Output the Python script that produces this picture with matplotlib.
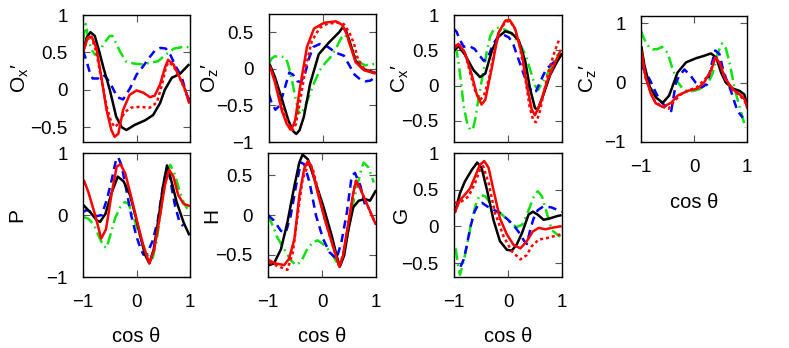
import matplotlib
matplotlib.use("Agg")
import matplotlib.pyplot as plt

plt.rcParams["font.family"] = ["Liberation Sans", "DejaVu Sans"]
plt.rcParams["mathtext.fontset"] = "custom"
plt.rcParams["mathtext.rm"] = "Liberation Sans"
plt.rcParams["mathtext.it"] = "Liberation Sans"

# ---- data: (cos theta, value) ----
# O_x'
ox_black = [(-1, 0.5), (-0.93, 0.7), (-0.86, 0.77), (-0.78, 0.72), (-0.7, 0.52), (-0.62, 0.3), (-0.5, 0.0),
            (-0.38, -0.36), (-0.28, -0.5), (-0.19, -0.54), (-0.03, -0.47), (0.16, -0.41), (0.31, -0.34),
            (0.44, -0.18), (0.53, 0.0), (0.66, 0.16), (0.81, 0.21), (0.97, 0.33)]
ox_red = [(-1, 0.5), (-0.91, 0.7), (-0.84, 0.71), (-0.75, 0.56), (-0.66, 0.18), (-0.56, -0.27), (-0.47, -0.54),
          (-0.41, -0.63), (-0.34, -0.59), (-0.25, -0.27), (-0.13, -0.07), (0.0, -0.01), (0.13, -0.04),
          (0.25, -0.1), (0.34, -0.08), (0.44, 0.07), (0.53, 0.29), (0.59, 0.4), (0.69, 0.34), (0.81, 0.16),
          (0.91, 0.0), (0.98, -0.17)]
ox_red_dot = [(-1, 0.5), (-0.91, 0.7), (-0.84, 0.7), (-0.75, 0.5), (-0.66, 0.15), (-0.56, -0.22), (-0.47, -0.44),
              (-0.4, -0.5), (-0.32, -0.44), (-0.22, -0.3), (-0.1, -0.24), (0.05, -0.23), (0.25, -0.24),
              (0.38, -0.17), (0.47, 0.05), (0.55, 0.3), (0.6, 0.37), (0.69, 0.32), (0.81, 0.15), (0.91, 0.0),
              (0.98, -0.15)]
ox_blue = [(-1, 0.52), (-0.95, 0.42), (-0.88, 0.25), (-0.82, 0.15), (-0.72, 0.15), (-0.62, 0.2), (-0.55, 0.15),
           (-0.45, 0.03), (-0.36, -0.1), (-0.25, -0.13), (-0.12, 0.02), (0.0, 0.2), (0.12, 0.31), (0.25, 0.44),
           (0.34, 0.52), (0.45, 0.56), (0.55, 0.55), (0.63, 0.47), (0.75, 0.29), (0.84, 0.18), (0.94, -0.07),
           (1, -0.15)]
ox_green = [(-1, 0.65), (-0.95, 0.88), (-0.91, 0.72), (-0.85, 0.55), (-0.78, 0.47), (-0.7, 0.5), (-0.6, 0.63),
            (-0.5, 0.72), (-0.45, 0.72), (-0.38, 0.62), (-0.3, 0.5), (-0.2, 0.38), (-0.05, 0.35), (0.1, 0.34),
            (0.25, 0.36), (0.4, 0.38), (0.5, 0.44), (0.6, 0.5), (0.7, 0.55), (0.85, 0.57), (1, 0.57)]

# O_z'
oz_black = [(-0.98, 0.05), (-0.89, -0.11), (-0.76, -0.41), (-0.64, -0.7), (-0.55, -0.85), (-0.49, -0.89),
            (-0.43, -0.84), (-0.35, -0.66), (-0.23, -0.2), (-0.07, 0.2), (0.12, 0.36), (0.31, 0.5), (0.38, 0.57),
            (0.44, 0.52), (0.5, 0.39), (0.62, 0.11), (0.75, 0.0), (0.97, -0.05)]
oz_red = [(-0.98, 0.03), (-0.89, -0.18), (-0.76, -0.57), (-0.67, -0.75), (-0.6, -0.83), (-0.55, -0.78),
          (-0.51, -0.7), (-0.42, -0.25), (-0.29, 0.3), (-0.16, 0.55), (0.03, 0.63), (0.25, 0.65), (0.37, 0.6),
          (0.45, 0.48), (0.5, 0.36), (0.62, 0.09), (0.78, -0.02), (0.97, -0.06)]
oz_red_dot = [(-0.98, 0.02), (-0.89, -0.15), (-0.76, -0.5), (-0.65, -0.74), (-0.56, -0.84), (-0.5, -0.76),
              (-0.42, -0.45), (-0.32, 0.0), (-0.2, 0.38), (-0.05, 0.56), (0.1, 0.62), (0.3, 0.63), (0.4, 0.61),
              (0.5, 0.5), (0.59, 0.34), (0.66, 0.14), (0.78, 0.0), (0.97, -0.05)]
oz_blue = [(-1, -0.35), (-0.95, -0.47), (-0.88, -0.56), (-0.8, -0.5), (-0.7, -0.25), (-0.62, -0.05),
           (-0.55, -0.08), (-0.47, -0.17), (-0.4, -0.18), (-0.32, -0.05), (-0.25, 0.15), (-0.17, 0.3),
           (-0.05, 0.34), (0.1, 0.3), (0.25, 0.22), (0.4, 0.18), (0.5, 0.05), (0.6, -0.08), (0.7, -0.14),
           (0.8, -0.17), (0.9, -0.16), (1, -0.1)]
oz_green = [(-1, 0.08), (-0.95, 0.14), (-0.9, 0.17), (-0.8, 0.17), (-0.7, 0.16), (-0.65, 0.08), (-0.58, -0.12),
            (-0.52, -0.35), (-0.45, -0.58), (-0.4, -0.62), (-0.33, -0.52), (-0.25, -0.37), (-0.15, -0.18),
            (-0.05, -0.02), (0.05, 0.08), (0.15, 0.16), (0.25, 0.28), (0.35, 0.42), (0.42, 0.47), (0.5, 0.36),
            (0.6, 0.18), (0.7, 0.08), (0.8, 0.05), (0.9, 0.06), (1, 0.07)]

# C_x'
cx_black = [(-0.98, 0.51), (-0.92, 0.56), (-0.8, 0.44), (-0.64, 0.22), (-0.52, 0.12), (-0.42, 0.17),
            (-0.3, 0.49), (-0.18, 0.69), (-0.05, 0.77), (0.07, 0.74), (0.2, 0.64), (0.32, 0.34), (0.41, -0.05),
            (0.5, -0.32), (0.55, -0.34), (0.66, -0.12), (0.78, 0.15), (0.91, 0.34), (0.99, 0.44)]
cx_red = [(-0.98, 0.54), (-0.92, 0.59), (-0.8, 0.47), (-0.67, 0.15), (-0.58, -0.12), (-0.49, -0.27),
          (-0.42, -0.2), (-0.3, 0.25), (-0.18, 0.74), (-0.05, 0.92), (0.03, 0.93), (0.13, 0.81), (0.26, 0.44),
          (0.35, 0.0), (0.44, -0.34), (0.5, -0.42), (0.6, -0.25), (0.72, 0.05), (0.85, 0.29), (0.97, 0.49)]
cx_red_dot = [(-0.98, 0.55), (-0.92, 0.6), (-0.8, 0.47), (-0.68, 0.12), (-0.6, -0.1), (-0.52, -0.2),
              (-0.45, -0.15), (-0.35, 0.1), (-0.25, 0.5), (-0.15, 0.78), (-0.05, 0.9), (0.03, 0.92),
              (0.12, 0.82), (0.22, 0.55), (0.32, 0.1), (0.4, -0.3), (0.47, -0.5), (0.52, -0.52),
              (0.58, -0.4), (0.65, -0.15), (0.75, 0.2), (0.85, 0.45), (0.94, 0.64)]
cx_blue = [(-1, 0.8), (-0.95, 0.76), (-0.9, 0.66), (-0.82, 0.55), (-0.72, 0.56), (-0.62, 0.52), (-0.52, 0.42),
           (-0.45, 0.35), (-0.38, 0.38), (-0.28, 0.58), (-0.18, 0.7), (-0.08, 0.72), (0.02, 0.68), (0.1, 0.58),
           (0.2, 0.36), (0.3, 0.14), (0.38, 0.0), (0.45, -0.1), (0.52, -0.08), (0.6, 0.06), (0.7, 0.22),
           (0.8, 0.3), (0.9, 0.36), (1, 0.45)]
cx_green = [(-1, 0.5), (-0.96, 0.52), (-0.92, 0.35), (-0.87, 0.05), (-0.82, -0.3), (-0.76, -0.52), (-0.7, -0.63),
            (-0.65, -0.62), (-0.6, -0.45), (-0.55, -0.2), (-0.48, 0.1), (-0.4, 0.45), (-0.33, 0.7),
            (-0.26, 0.8), (-0.18, 0.82), (-0.08, 0.8), (0.05, 0.75), (0.15, 0.65), (0.25, 0.55), (0.35, 0.38),
            (0.42, 0.2), (0.5, 0.0), (0.56, -0.06), (0.62, 0.02), (0.72, 0.15), (0.82, 0.3), (0.9, 0.42),
            (0.97, 0.47)]

# C_z'
cz_black = [(-0.99, 0.59), (-0.94, 0.31), (-0.84, -0.06), (-0.72, -0.25), (-0.59, -0.34), (-0.47, -0.22),
            (-0.31, 0.17), (-0.15, 0.34), (0.04, 0.41), (0.19, 0.45), (0.32, 0.49), (0.42, 0.42), (0.51, 0.17),
            (0.6, 0.0), (0.73, -0.1), (0.86, -0.14), (0.95, -0.2), (0.99, -0.34)]
cz_red = [(-0.99, 0.53), (-0.91, 0.08), (-0.81, -0.2), (-0.72, -0.35), (-0.59, -0.41), (-0.43, -0.34),
          (-0.31, -0.22), (-0.12, -0.14), (0.07, -0.1), (0.19, 0.0), (0.33, 0.22), (0.4, 0.42), (0.48, 0.34),
          (0.58, 0.08), (0.73, -0.11), (0.89, -0.22), (0.97, -0.3), (1, -0.42)]
cz_red_dot = [(-1, 0.5), (-0.92, 0.1), (-0.84, -0.1), (-0.75, -0.3), (-0.62, -0.4), (-0.48, -0.44),
              (-0.38, -0.32), (-0.25, -0.2), (-0.1, -0.13), (0.05, -0.08), (0.2, 0.05), (0.3, 0.15),
              (0.38, 0.38), (0.42, 0.42), (0.5, 0.3), (0.6, 0.05), (0.72, -0.12), (0.85, -0.2), (0.95, -0.3),
              (1, -0.4)]
cz_blue = [(-0.99, 0.3), (-0.92, 0.17), (-0.84, 0.06), (-0.72, -0.17), (-0.64, -0.31), (-0.51, -0.42),
           (-0.43, -0.48), (-0.34, 0.0), (-0.28, 0.11), (-0.18, 0.22), (-0.06, 0.11), (0.03, 0.0),
           (0.15, -0.08), (0.25, -0.02), (0.33, 0.3), (0.4, 0.54), (0.48, 0.48), (0.54, 0.25), (0.6, 0.08),
           (0.7, -0.15), (0.82, -0.48), (0.92, -0.59)]
cz_green = [(-1, 0.87), (-0.94, 0.73), (-0.85, 0.6), (-0.78, 0.56), (-0.7, 0.56), (-0.6, 0.6), (-0.5, 0.5),
            (-0.4, 0.22), (-0.3, 0.0), (-0.2, -0.12), (-0.1, -0.15), (0.0, -0.14), (0.1, -0.11), (0.25, -0.04),
            (0.35, 0.15), (0.45, 0.5), (0.53, 0.66), (0.6, 0.58), (0.68, 0.3), (0.76, -0.08), (0.85, -0.38),
            (0.92, -0.6), (0.97, -0.76)]

# P
p_black = [(-0.98, 0.15), (-0.86, 0.04), (-0.74, -0.09), (-0.68, -0.11), (-0.58, 0.02), (-0.46, 0.37),
           (-0.35, 0.62), (-0.24, 0.54), (-0.12, 0.32), (-0.02, -0.01), (0.07, -0.34), (0.16, -0.64),
           (0.24, -0.78), (0.32, -0.56), (0.41, -0.07), (0.5, 0.48), (0.57, 0.8), (0.64, 0.59), (0.75, 0.21),
           (0.88, -0.12), (0.98, -0.31)]
p_red = [(-0.98, 0.55), (-0.9, 0.37), (-0.77, -0.01), (-0.66, -0.38), (-0.57, -0.23), (-0.46, 0.37),
         (-0.37, 0.78), (-0.3, 0.82), (-0.21, 0.67), (-0.09, 0.26), (0.03, -0.17), (0.13, -0.5), (0.24, -0.78),
         (0.33, -0.56), (0.44, -0.01), (0.53, 0.48), (0.61, 0.73), (0.69, 0.62), (0.78, 0.32), (0.88, 0.18),
         (0.98, 0.15)]
p_blue = [(-1, 0.05), (-0.93, 0.08), (-0.85, 0.05), (-0.75, -0.02), (-0.65, 0.0), (-0.55, 0.26), (-0.46, 0.58),
          (-0.38, 0.9), (-0.34, 0.93), (-0.28, 0.8), (-0.2, 0.45), (-0.1, 0.0), (0.0, -0.35), (0.08, -0.55),
          (0.13, -0.64), (0.2, -0.62), (0.3, -0.42), (0.4, -0.08), (0.48, 0.38), (0.55, 0.7), (0.6, 0.72),
          (0.66, 0.43), (0.72, 0.15), (0.8, -0.1), (0.87, -0.18)]
p_green = [(-1, -0.03), (-0.9, -0.06), (-0.8, -0.15), (-0.7, -0.35), (-0.62, -0.5), (-0.56, -0.53),
           (-0.48, -0.3), (-0.4, -0.05), (-0.3, 0.13), (-0.22, 0.21), (-0.15, 0.18), (-0.05, -0.05),
           (0.05, -0.3), (0.15, -0.55), (0.25, -0.7), (0.3, -0.7), (0.38, -0.4), (0.46, 0.1), (0.55, 0.6),
           (0.63, 0.81), (0.7, 0.7), (0.8, 0.4), (0.88, 0.2), (0.95, 0.1)]

# H
h_black = [(-0.98, -0.63), (-0.89, -0.61), (-0.76, -0.43), (-0.64, -0.09), (-0.51, 0.37), (-0.42, 0.66),
           (-0.36, 0.76), (-0.26, 0.7), (-0.14, 0.45), (0.02, 0.12), (0.18, -0.26), (0.27, -0.51),
           (0.33, -0.65), (0.41, -0.51), (0.49, -0.18), (0.58, 0.1), (0.68, 0.18), (0.8, 0.2), (0.89, 0.18),
           (0.99, 0.3)]
h_red = [(-0.98, -0.57), (-0.86, -0.61), (-0.7, -0.63), (-0.61, -0.55), (-0.51, -0.3), (-0.42, 0.24),
         (-0.33, 0.58), (-0.26, 0.68), (-0.2, 0.62), (-0.08, 0.28), (0.05, -0.05), (0.18, -0.34), (0.32, -0.65),
         (0.39, -0.51), (0.49, -0.09), (0.58, 0.28), (0.63, 0.43), (0.71, 0.33), (0.83, 0.14), (0.99, -0.11)]
h_red_dot = [(-0.98, -0.6), (-0.79, -0.65), (-0.64, -0.69), (-0.54, -0.47), (-0.45, 0.0), (-0.36, 0.45),
             (-0.24, 0.66), (-0.17, 0.58), (-0.08, 0.33), (0.05, -0.05), (0.18, -0.34), (0.32, -0.65),
             (0.39, -0.51), (0.49, -0.09), (0.58, 0.28), (0.63, 0.43), (0.71, 0.33), (0.83, 0.14),
             (0.99, -0.11)]
h_blue = [(-1, 0.0), (-0.89, -0.07), (-0.76, -0.2), (-0.67, -0.22), (-0.58, -0.01), (-0.48, 0.37),
          (-0.39, 0.66), (-0.33, 0.64), (-0.23, 0.41), (-0.11, -0.01), (0.02, -0.3), (0.14, -0.47),
          (0.27, -0.55), (0.36, -0.34), (0.46, 0.03), (0.55, 0.49), (0.61, 0.53), (0.71, 0.37), (0.8, 0.12)]
h_green = [(-1, 0.0), (-0.89, -0.17), (-0.83, -0.28), (-0.7, -0.43), (-0.58, -0.57), (-0.48, -0.63),
           (-0.39, -0.59), (-0.29, -0.45), (-0.17, -0.34), (-0.08, -0.32), (0.05, -0.38), (0.18, -0.49),
           (0.27, -0.59), (0.36, -0.57), (0.46, -0.3), (0.58, 0.16), (0.71, 0.53), (0.77, 0.66), (0.86, 0.6),
           (0.96, 0.41)]

# G
g_black = [(-0.98, 0.2), (-0.89, 0.45), (-0.8, 0.61), (-0.67, 0.77), (-0.57, 0.87), (-0.49, 0.8), (-0.39, 0.5),
           (-0.27, 0.09), (-0.15, -0.2), (-0.02, -0.32), (0.07, -0.33), (0.16, -0.25), (0.26, -0.09),
           (0.38, 0.16), (0.46, 0.2), (0.55, 0.16), (0.66, 0.09), (0.78, 0.11), (0.91, 0.14), (0.97, 0.15)]
g_red = [(-0.98, 0.2), (-0.89, 0.36), (-0.8, 0.43), (-0.7, 0.52), (-0.61, 0.68), (-0.52, 0.84), (-0.44, 0.89),
         (-0.36, 0.8), (-0.27, 0.5), (-0.15, 0.11), (-0.02, -0.11), (0.1, -0.25), (0.23, -0.3), (0.35, -0.2),
         (0.46, -0.07), (0.57, -0.02), (0.69, -0.04), (0.81, -0.02), (0.97, 0.0)]
g_red_dot = [(-0.98, 0.32), (-0.86, 0.34), (-0.73, 0.41), (-0.61, 0.59), (-0.52, 0.77), (-0.46, 0.82),
             (-0.36, 0.59), (-0.24, 0.18), (-0.08, -0.14), (0.07, -0.34), (0.23, -0.45), (0.35, -0.39),
             (0.44, -0.27), (0.57, -0.18), (0.72, -0.16), (0.97, -0.11)]
g_blue = [(-0.88, -0.55), (-0.82, -0.45), (-0.76, -0.25), (-0.7, -0.02), (-0.62, 0.2), (-0.55, 0.3),
          (-0.48, 0.32), (-0.38, 0.27), (-0.25, 0.22), (-0.12, 0.17), (0.0, 0.09), (0.1, 0.02), (0.2, -0.08),
          (0.3, -0.2), (0.35, -0.24), (0.4, -0.08), (0.47, 0.1), (0.55, 0.22), (0.65, 0.27), (0.8, 0.26),
          (0.9, 0.23), (1, 0.2)]
g_green = [(-0.97, -0.3), (-0.92, -0.55), (-0.89, -0.66), (-0.83, -0.5), (-0.76, -0.27), (-0.67, 0.09),
           (-0.58, 0.34), (-0.52, 0.43), (-0.42, 0.41), (-0.33, 0.32), (-0.21, 0.23), (-0.08, 0.14),
           (0.04, 0.05), (0.16, -0.01), (0.26, 0.02), (0.35, 0.16), (0.47, 0.39), (0.55, 0.48), (0.63, 0.41),
           (0.72, 0.18), (0.81, -0.05), (0.91, -0.11), (0.97, -0.14)]

W, H = 789, 348

STYLES = {
    "green": dict(color="#11e011", ls=(0, (4.6, 1.8, 0.7, 1.8))),
    "blue": dict(color="#0000ff", ls=(0, (3.3, 2.2))),
    "black": dict(color="black", ls="-"),
    "red_dot": dict(color="#ff0000", ls=(0, (1.2, 1.2))),
    "red": dict(color="#ff0000", ls="-"),
}

panels = [
    # pixel box (left, top, right, bottom), ylim, yticks, ylabel, label x (px), curves, show x labels
    ((83, 15, 190, 142), (-0.7, 1.0), [-0.5, 0, 0.5, 1], "O$_{\\mathregular{x}}$\u2032", 20,
     {"green": ox_green, "blue": ox_blue, "black": ox_black, "red_dot": ox_red_dot, "red": ox_red}, False),
    ((269, 14, 376, 142), (-1.0, 0.75), [-1, -0.5, 0, 0.5], "O$_{\\mathregular{z}}$\u2032", 210,
     {"green": oz_green, "blue": oz_blue, "black": oz_black, "red_dot": oz_red_dot, "red": oz_red}, False),
    ((454, 15, 562, 142), (-0.8, 1.0), [-0.5, 0, 0.5, 1], "C$_{\\mathregular{x}}$\u2032", 400,
     {"green": cx_green, "blue": cx_blue, "black": cx_black, "red_dot": cx_red_dot, "red": cx_red}, False),
    ((641, 16, 747, 142), (-1.0, 1.12), [-1, 0, 1], "C$_{\\mathregular{z}}$\u2032", 588,
     {"green": cz_green, "blue": cz_blue, "black": cz_black, "red_dot": cz_red_dot, "red": cz_red}, True),
    ((83, 153, 190, 277), (-1.0, 1.0), [-1, 0, 1], "P", 17,
     {"green": p_green, "blue": p_blue, "black": p_black, "red": p_red}, True),
    ((268, 153, 376, 277), (-0.78, 0.78), [-0.5, 0, 0.5], "H", 212,
     {"green": h_green, "blue": h_blue, "black": h_black, "red_dot": h_red_dot, "red": h_red}, True),
    ((454, 153, 562, 277), (-0.69, 1.0), [-0.5, 0, 0.5, 1], "G", 402,
     {"green": g_green, "blue": g_blue, "black": g_black, "red_dot": g_red_dot, "red": g_red}, True),
]


def fmt(v):
    if v == int(v):
        return f"{int(v)}".replace("-", "\u2212")
    return f"{v:g}".replace("-", "\u2212")


fig = plt.figure(figsize=(W / 100, H / 100), dpi=100)

for (l, t, r, b), ylim, yticks, ylabel, lab_x, curves, show_x in panels:
    ax = fig.add_axes([l / W, 1 - b / H, (r - l) / W, (b - t) / H])
    for key, pts in curves.items():
        xs = [p[0] for p in pts]
        ys = [p[1] for p in pts]
        ax.plot(xs, ys, lw=1.8, solid_joinstyle="round", **STYLES[key])
    ax.set_xlim(-1, 1)
    ax.set_ylim(*ylim)
    ax.set_xticks([-1, 0, 1])
    ax.set_yticks(yticks)
    ax.set_yticklabels([fmt(v) for v in yticks])
    ax.tick_params(direction="in", top=True, right=True, length=5, width=0.8, color="#555555",
                   labelsize=13.5, pad=11)
    ax.tick_params(axis="x", pad=12)
    if show_x:
        ax.set_xticklabels([fmt(v) for v in [-1, 0, 1]])
        ax.set_xlabel("cos \u03b8", fontsize=14.5, va="center")
        ax.xaxis.set_label_coords(0.5, -60 / (b - t))
    else:
        ax.set_xticklabels([])
    ax.set_ylabel(ylabel, fontsize=15, va="center")
    ax.yaxis.set_label_coords((lab_x - l) / (r - l), 0.5)
    for s in ax.spines.values():
        s.set_linewidth(1.0)

fig.savefig("out.png", dpi=100)
